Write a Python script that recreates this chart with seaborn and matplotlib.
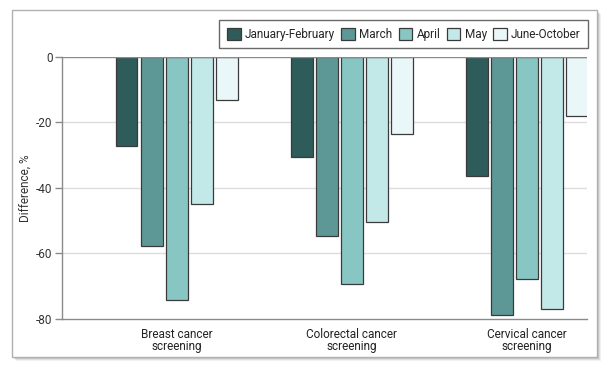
import matplotlib
matplotlib.use("Agg")
import matplotlib.pyplot as plt
import matplotlib.patches as mpatches
import seaborn as sns
import pandas as pd

categories = ["Breast cancer\nscreening", "Colorectal cancer\nscreening", "Cervical cancer\nscreening"]
periods = ["January-February", "March", "April", "May", "June-October"]
jan_feb = [-27.3, -30.7, -36.3]
march = [-57.7, -54.8, -78.9]
april = [-74.3, -69.4, -67.8]
may = [-45.1, -50.6, -77.1]
june_oct = [-13.2, -23.6, -18.0]
colors = ["#2e5c5a", "#5e9896", "#88c6c4", "#c3e8e8", "#eaf7f9"]
yticks = [0, -20, -40, -60, -80]

series = [jan_feb, march, april, may, june_oct]
rows = []
for p, vals in zip(periods, series):
    for c, v in zip(categories, vals):
        rows.append({"Category": c, "Period": p, "Value": v})
df = pd.DataFrame(rows)

sns.set_theme(style="white")
plt.rcParams['font.family'] = ['Roboto', 'DejaVu Sans']

fig = plt.figure(figsize=(6.09, 3.72), dpi=100)
W, H = 609, 372

# frame with shadow
for off, a in [(4, 0.10), (3, 0.15), (2, 0.2)]:
    fig.patches.append(mpatches.Rectangle(((12 + off) / W, 1 - (357 + off) / H), (597 - 12) / W, (357 - 10) / H,
                                          transform=fig.transFigure, facecolor="#777777", edgecolor="none",
                                          alpha=a, zorder=0))
fig.patches.append(mpatches.Rectangle((12 / W, 1 - 357 / H), (597 - 12) / W, (357 - 10) / H,
                                      transform=fig.transFigure, facecolor="white", edgecolor="#b0b0b0",
                                      linewidth=1.0, zorder=1))

ax = fig.add_axes([62.3 / W, 1 - 318.7 / H, (586.7 - 62.3) / W, (318.7 - 56.7) / H])
ax.set_facecolor("none")
ax.set_zorder(2)

sns.barplot(data=df, x="Category", y="Value", hue="Period", hue_order=periods, order=categories,
            palette=colors, saturation=1, width=0.715, gap=0.14, edgecolor="#3a3a3a", linewidth=0.9,
            errorbar=None, ax=ax, zorder=3)

ax.set_ylim(-80, 0)
ax.set_xlim(-0.654, 2.342)
ax.set_yticks(yticks)
ax.set_yticklabels([str(t) for t in yticks])
for t in [-20, -40, -60]:
    ax.axhline(t, color="#dddddd", linewidth=1.0, zorder=1)
ax.axhline(0, color="#8a8a8a", linewidth=1.0, zorder=4)

for s in ["top", "right"]:
    ax.spines[s].set_visible(False)
for s in ["left", "bottom"]:
    ax.spines[s].set_color("#8a8a8a")
    ax.spines[s].set_linewidth(1.0)

ax.tick_params(axis="y", left=True, length=5, width=1, color="#8a8a8a", labelsize=8.5, labelcolor="#333333", pad=2)
ax.tick_params(axis="x", bottom=False, labelsize=8.5, labelcolor="#222222", pad=0.5)
for lab in ax.get_xticklabels():
    lab.set_linespacing(0.9)
ax.set_xlabel("")
ax.set_ylabel("Difference, %", fontsize=8.5, color="#333333")
ax.yaxis.set_label_coords((33 - 62.3) / 524.4, 0.5)

handles, labels = ax.get_legend_handles_labels()
ax.get_legend().remove()
leg = fig.legend(handles, labels, loc="upper right", bbox_to_anchor=(588.3 / W, 1 - 20 / H), ncol=5,
                 frameon=True, fancybox=False, edgecolor="#444444", fontsize=8.5,
                 handlelength=1.15, handleheight=1.15, handletextpad=0.35, columnspacing=0.55,
                 borderpad=0.65, borderaxespad=0)
leg.get_frame().set_linewidth(1.0)
leg.set_zorder(5)

fig.savefig("out.png", dpi=100)
